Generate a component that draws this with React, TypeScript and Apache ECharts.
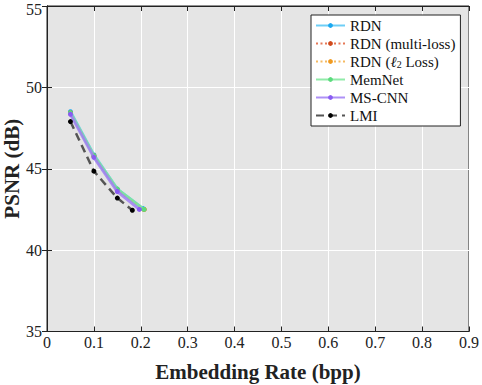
import React, { useEffect, useRef } from "react";
import * as echarts from "echarts";

const seriesNames = ["RDN", "RDN (multi-loss)", "RDN (ℓ2 Loss)", "MemNet", "MS-CNN", "LMI"];
const rdnX = [0.05, 0.1, 0.15, 0.205];
const rdnY = [48.5, 45.85, 43.75, 42.55];
const multiX = [0.05, 0.1, 0.15, 0.207];
const multiY = [48.45, 45.8, 43.7, 42.5];
const l2X = [0.05, 0.1, 0.15, 0.207];
const l2Y = [48.4, 45.75, 43.65, 42.5];
const memX = [0.05, 0.1, 0.15, 0.207];
const memY = [48.45, 45.8, 43.75, 42.5];
const msX = [0.05, 0.1, 0.15, 0.197];
const msY = [48.35, 45.7, 43.6, 42.5];
const lmiX = [0.05, 0.1, 0.15, 0.182];
const lmiY = [47.9, 44.85, 43.2, 42.45];

const colors = ["#55C6F5", "#E0603A", "#F5AE45", "#7EE89A", "#A07EF5", "#555555"];
const markerColors = ["#1AA8F0", "#D04A1C", "#F09A20", "#5CDB7E", "#8A5CF2", "#000000"];

const FONT = "'Liberation Serif', 'Times New Roman', serif";

function zip(xs: number[], ys: number[]) {
  return xs.map((x, i) => [x, ys[i]]);
}

export default function App() {
  const ref = useRef<HTMLDivElement>(null);
  useEffect(() => {
    if (!ref.current) return;
    const chart = echarts.init(ref.current, undefined, { renderer: "svg" });
    const datas = [
      zip(rdnX, rdnY),
      zip(multiX, multiY),
      zip(l2X, l2Y),
      zip(memX, memY),
      zip(msX, msY),
      zip(lmiX, lmiY),
    ];
    const lineTypes: any[] = ["solid", [2, 2.5], [2, 2.5], "solid", "solid", [8, 5]];
    const widths = [3, 2, 2, 3, 3, 2.5];
    const series = datas.map((d, i) => ({
      name: seriesNames[i],
      type: "line",
      data: d,
      symbol: "circle",
      symbolSize: 5,
      showSymbol: true,
      lineStyle: { color: colors[i], width: widths[i], type: lineTypes[i], opacity: i === 5 ? 1 : 0.85 },
      itemStyle: { color: markerColors[i] },
      z: 2 + i,
    }));
    const axisCommon = {
      axisLine: { show: true, lineStyle: { color: "#222", width: 1 } },
      axisTick: { show: true, inside: true, length: 5, lineStyle: { color: "#222" } },
    };
    chart.setOption({
      animation: false,
      backgroundColor: "#ffffff",
      textStyle: { fontFamily: FONT },
      grid: {
        left: 47,
        top: 6,
        right: 13,
        bottom: 53.5,
        containLabel: false,
        outerBoundsMode: "none",
        show: true,
        backgroundColor: "#E5E5E5",
        borderColor: "#222",
        borderWidth: 1,
      },
      legend: {
        orient: "vertical",
        left: 311,
        top: 15,
        itemWidth: 29,
        itemHeight: 6,
        itemGap: 3,
        padding: [3, 5, 3, 4],
        backgroundColor: "#ffffff",
        borderColor: "#222",
        borderWidth: 1,
        borderRadius: 0,
        data: seriesNames,
        formatter: (name: string) => {
          if (name === "RDN (ℓ2 Loss)") return "RDN ({i|ℓ}{sub|2} Loss)";
          return name;
        },
        textStyle: {
          fontFamily: FONT,
          fontSize: 15,
          color: "#111",
          lineHeight: 15,
          rich: {
            i: { fontFamily: FONT, fontSize: 15, fontStyle: "italic", color: "#111", lineHeight: 15 },
            sub: { fontFamily: FONT, fontSize: 10, color: "#111", verticalAlign: "bottom", lineHeight: 15, padding: [5, 0, 0, 0] },
          },
        },
      },
      xAxis: [
        {
          type: "value",
          min: 0,
          max: 0.9,
          interval: 0.1,
          name: "Embedding Rate (bpp)",
          nameLocation: "middle",
          nameGap: 30,
          nameMoveOverlap: false,
          nameTextStyle: { fontFamily: FONT, fontSize: 21, fontWeight: "bold", color: "#222" },
          ...axisCommon,
          axisLabel: {
            fontFamily: FONT,
            fontSize: 16,
            color: "#222",
            margin: 3,
            formatter: (v: number) => (v === 0 ? "0" : String(Math.round(v * 10) / 10)),
          },
          splitLine: { show: true, lineStyle: { color: "#ffffff", width: 1 } },
        },
        {
          type: "value",
          position: "top",
          min: 0,
          max: 0.9,
          interval: 0.1,
          ...axisCommon,
          axisLabel: { show: false },
          splitLine: { show: false },
        },
      ],
      yAxis: [
        {
          type: "value",
          min: 35,
          max: 55,
          interval: 5,
          name: "PSNR (dB)",
          nameLocation: "middle",
          nameGap: 25,
          nameMoveOverlap: false,
          nameTextStyle: { fontFamily: FONT, fontSize: 21, fontWeight: "bold", color: "#222" },
          ...axisCommon,
          axisLabel: {
            fontFamily: FONT,
            fontSize: 16,
            lineHeight: 12,
            color: "#222",
            margin: 5,
            formatter: (v: number) => (v === 55 ? "{t|55}" : String(v)),
            rich: {
              t: { fontFamily: FONT, fontSize: 16, lineHeight: 12, color: "#222", padding: [6, 0, 0, 0] },
            },
          },
          splitLine: { show: true, lineStyle: { color: "#ffffff", width: 1 } },
        },
        {
          type: "value",
          position: "right",
          min: 35,
          max: 55,
          interval: 5,
          ...axisCommon,
          axisLabel: { show: false },
          splitLine: { show: false },
        },
      ],
      series,
    });
    return () => chart.dispose();
  }, []);
  return (
    <div
      ref={ref}
      style={{ position: "fixed", left: 0, top: 0, width: 482, height: 385 }}
    />
  );
}
